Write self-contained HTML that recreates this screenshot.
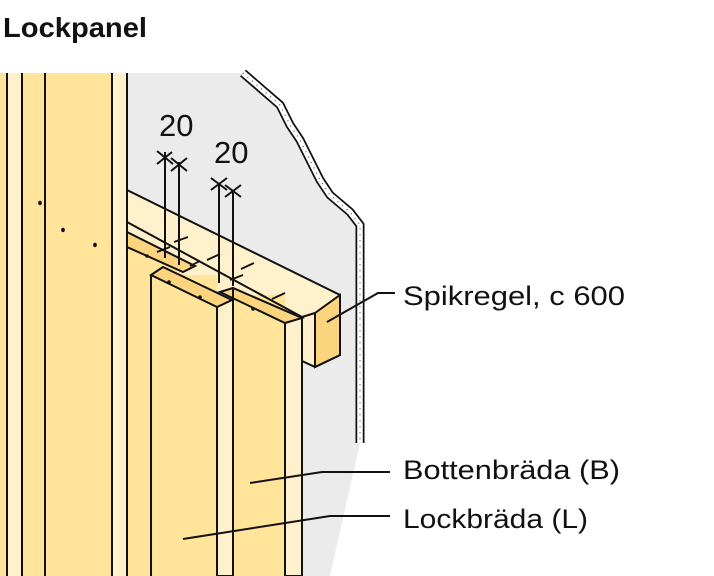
<!DOCTYPE html>
<html><head><meta charset="utf-8"><style>
html,body{margin:0;padding:0;background:#fff;width:714px;height:576px;overflow:hidden}
svg{display:block}
text{font-family:"Liberation Sans",sans-serif;fill:#111}
</style></head><body>
<svg width="714" height="576" viewBox="0 0 714 576" xmlns="http://www.w3.org/2000/svg">
<text x="3" y="37" font-size="28" font-weight="bold" textLength="144" lengthAdjust="spacingAndGlyphs">Lockpanel</text>
<path d="M127,73 L243,73 L280,105 L290,125 L300,140 L320,180 L330,195 L350,212 L360,225 L360,443 L330,576 L127,576 Z" fill="#ebebeb"/>
<path d="M243,73 L280,105 L290,125 L300,140 L320,180 L330,195 L350,212 L360,225 L360,443" fill="none" stroke="#111" stroke-width="9"/>
<path d="M243,73 L280,105 L290,125 L300,140 L320,180 L330,195 L350,212 L360,225 L360,443" fill="none" stroke="#fff" stroke-width="5.5"/>
<path d="M243,73 L280,105 L290,125 L300,140 L320,180 L330,195 L350,212 L360,225 L360,443" fill="none" stroke="#555" stroke-width="1.2" stroke-dasharray="1 5"/>
<rect x="0" y="73" width="127" height="503" fill="#ffe49a"/>
<rect x="7" y="73" width="15" height="503" fill="#fff1cc"/>
<rect x="112" y="73" width="15" height="503" fill="#fff1cc"/>
<g stroke="#111" stroke-width="2">
<line x1="7" y1="73" x2="7" y2="576"/><line x1="22" y1="73" x2="22" y2="576"/>
<line x1="45" y1="73" x2="45" y2="576"/><line x1="112" y1="73" x2="112" y2="576"/>
<line x1="127" y1="73" x2="127" y2="576"/>
</g>
<g fill="#111">
<ellipse cx="40" cy="203" rx="1.8" ry="2.2"/><ellipse cx="63" cy="230" rx="1.8" ry="2.2"/><ellipse cx="95" cy="245" rx="1.8" ry="2.2"/>
</g>
<!-- batten / pale region -->
<path d="M127,190 L340,295 L340,355 L315,367 L302,361 L302,576 L127,576 Z" fill="#fff1cc" stroke="#111" stroke-width="2"/>
<!-- yellow behind boards below strip -->
<path d="M127,247 L217,290 L217,576 L127,576 Z" fill="#ffe49a"/>
<rect x="232" y="295" width="53" height="281" fill="#ffe49a"/>
<path d="M315,313 L340,295 L340,355 L315,367 Z" fill="#fcd47e" stroke="#111" stroke-width="2"/>
<line x1="127" y1="222" x2="302" y2="317" stroke="#111" stroke-width="2"/>
<line x1="302" y1="317" x2="315" y2="313" stroke="#111" stroke-width="2"/>
<line x1="127" y1="73" x2="127" y2="576" stroke="#111" stroke-width="2"/>
<path d="M127,232 L195,266 L183,272 L127,247 Z" fill="#fcd47e" stroke="#111" stroke-width="2"/>
<path d="M220,292 L233,288 L302,318 L285,323 Z" fill="#fcd47e" stroke="#111" stroke-width="2"/>
<line x1="285" y1="323" x2="285" y2="576" stroke="#111" stroke-width="2"/>
<line x1="302" y1="318" x2="302" y2="576" stroke="#111" stroke-width="2"/>
<line x1="233" y1="288" x2="233" y2="576" stroke="#111" stroke-width="2"/>
<rect x="151" y="275" width="66" height="301" fill="#ffe49a"/>
<path d="M151,275 L163,267 L232,300 L217,307 Z" fill="#fcd47e" stroke="#111" stroke-width="2"/>
<line x1="151" y1="275" x2="151" y2="576" stroke="#111" stroke-width="2"/>
<line x1="217" y1="307" x2="217" y2="576" stroke="#111" stroke-width="2"/>
<g stroke="#111" stroke-width="1.8">
<line x1="157" y1="252" x2="170" y2="247"/><line x1="174" y1="242" x2="188" y2="237"/>
<line x1="190" y1="266" x2="200" y2="261"/><line x1="207" y1="260" x2="220" y2="254"/>
<line x1="230" y1="280" x2="243" y2="275"/><line x1="241" y1="269" x2="254" y2="263"/>
<line x1="272" y1="299" x2="285" y2="293"/>
</g>
<g fill="#111">
<circle cx="147" cy="256" r="1.8"/><circle cx="169" cy="282" r="1.8"/><circle cx="200" cy="297" r="1.8"/><circle cx="253" cy="309" r="1.8"/>
</g>
<g stroke="#111" stroke-width="2">
<line x1="165" y1="152" x2="165" y2="258"/><line x1="179" y1="162" x2="179" y2="265"/>
<line x1="219" y1="184" x2="219" y2="283"/><line x1="233" y1="191" x2="233" y2="286"/>
<line x1="157" y1="151" x2="173" y2="164"/><line x1="157" y1="164" x2="172" y2="152"/>
<line x1="171" y1="158" x2="187" y2="171"/><line x1="171" y1="171" x2="187" y2="158"/>
<line x1="211" y1="178" x2="227" y2="190"/><line x1="211" y1="190" x2="227" y2="178"/>
<line x1="225" y1="185" x2="241" y2="197"/><line x1="225" y1="197" x2="241" y2="185"/>
</g>
<text x="159" y="136" font-size="31">20</text>
<text x="214" y="163" font-size="31">20</text>
<g stroke="#111" stroke-width="2" fill="none">
<polyline points="327,322 378,293 395,293"/>
<polyline points="250,483 322,472 390,472"/>
<polyline points="183,539 330,516 390,516"/>
</g>
<text x="403" y="305" font-size="27" textLength="222" lengthAdjust="spacingAndGlyphs">Spikregel, c 600</text>
<text x="403" y="479" font-size="27" textLength="217" lengthAdjust="spacingAndGlyphs">Bottenbräda (B)</text>
<text x="403" y="528" font-size="27" textLength="185" lengthAdjust="spacingAndGlyphs">Lockbräda (L)</text>
</svg>
</body></html>
